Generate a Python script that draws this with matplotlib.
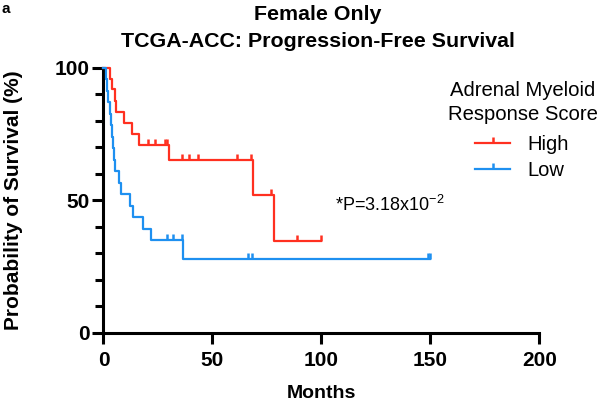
import matplotlib
matplotlib.use("Agg")
from matplotlib import pyplot as plt
from matplotlib.lines import Line2D
from matplotlib.path import Path

# Kaplan-Meier steps (months, survival %)
high_times = [0, 3.0, 3.9, 5.2, 5.7, 9.6, 13.0, 16.1, 30.2, 68.7, 78.3, 99.7]
high_surv = [100, 95.8, 91.7, 87.5, 83.3, 79.2, 75.0, 70.8, 65.0, 51.8, 34.5, 34.5]
high_censor = [20.6, 23.7, 28.2, 29.2, 35.8, 39.4, 43.5, 61.1, 67.7, 76.8, 88.9, 99.7]

low_times = [0, 1.1, 1.6, 2.0, 2.8, 3.5, 3.9, 4.5, 4.8, 5.3, 7.3, 8.0, 12.2, 13.7, 18.0, 21.8, 36.7, 150.0]
low_surv = [100, 95.7, 91.3, 87.0, 82.6, 78.3, 73.9, 69.6, 65.2, 60.9, 56.5, 52.2, 47.8, 43.5, 39.1, 34.8, 27.8, 27.8]
low_censor = [29.0, 31.8, 35.9, 66.4, 68.0, 149.0, 150.0]

red = '#FF3020'
blue = '#1E90F0'

plt.rcParams['font.family'] = ['Liberation Sans', 'DejaVu Sans']
plt.rcParams['mathtext.fontset'] = 'custom'
plt.rcParams['mathtext.rm'] = 'Liberation Sans'

def surv_at(times, surv, t):
    s = surv[0]
    for tt, ss in zip(times, surv):
        if tt <= t:
            s = ss
    return s

tick_up = Path([(0, 0), (0, 1)])

W, H = 600, 401
fig = plt.figure(figsize=(6.0, 4.01), dpi=100)
ax = fig.add_axes([103.5/W, 1-332.5/H, 435.8/W, 265/H])

for times, surv, cens, col in [(high_times, high_surv, high_censor, red),
                               (low_times, low_surv, low_censor, blue)]:
    ax.step(times, surv, where='post', color=col, lw=1.6, clip_on=False, zorder=3)
    cy = [surv_at(times, surv, c) for c in cens]
    ax.plot(cens, cy, ls='none', marker=tick_up, ms=8, mew=1.8, color=col, clip_on=False, zorder=3)

ax.set_xlim(0, 200)
ax.set_ylim(0, 100)
ax.set_xticks([0, 50, 100, 150, 200])
ax.set_yticks([0, 50, 100])
ax.set_yticks(range(0, 101, 10), minor=True)
for s in ['top', 'right']:
    ax.spines[s].set_visible(False)
for s in ['left', 'bottom']:
    ax.spines[s].set_linewidth(2.2)
ax.tick_params(axis='both', which='major', length=8, width=2.2, labelsize=15)
ax.tick_params(axis='x', which='major', pad=5)
ax.tick_params(axis='y', which='major', pad=2)
ax.tick_params(axis='y', which='minor', length=5.5, width=2.2)
ax.tick_params(axis='x', which='minor', length=0)
for lab in ax.get_xticklabels() + ax.get_yticklabels():
    lab.set_fontweight('bold')

ax.set_xlabel('Months', fontsize=14, fontweight='bold', va='top')
ax.set_ylabel('Probability of Survival (%)', fontsize=15, fontweight='bold')
ax.xaxis.set_label_coords(0.5, -0.198)
ax.yaxis.set_label_coords(-0.185, 0.5)

ax.text(106.2, 48.1, r'*P=3.18x10$^{\mathregular{-2}}$', fontsize=13, ha='left', va='center')

# legend title drawn separately so it can sit a little higher than the entries
fig.text(523/W, 1-96.5/H, 'Adrenal Myeloid', fontsize=14.6, ha='center', va='baseline')
fig.text(523/W, 1-120/H, 'Response Score', fontsize=14.6, ha='center', va='baseline')
handles = [Line2D([0], [0], color=red, lw=1.6, marker=tick_up, ms=8, mew=1.8),
           Line2D([0], [0], color=blue, lw=1.6, marker=tick_up, ms=8, mew=1.8)]
ax.legend(handles, ['High', 'Low'], loc='center left',
          bbox_to_anchor=(475/W, 1-157.5/H), bbox_transform=fig.transFigure,
          frameon=False, fontsize=14.5, handlelength=1.74, handletextpad=0.84,
          labelspacing=0.36, borderpad=0, borderaxespad=0, numpoints=1)

fig.text(318/W, 1-20/H, 'Female Only', fontsize=15.4, fontweight='bold', ha='center', va='baseline')
fig.text(318/W, 1-47/H, 'TCGA-ACC: Progression-Free Survival', fontsize=15.4, fontweight='bold',
         ha='center', va='baseline')
fig.text(1/W, 1-13/H, 'a', fontsize=11, fontweight='bold', ha='left', va='baseline')

fig.savefig('out.png', dpi=100)
